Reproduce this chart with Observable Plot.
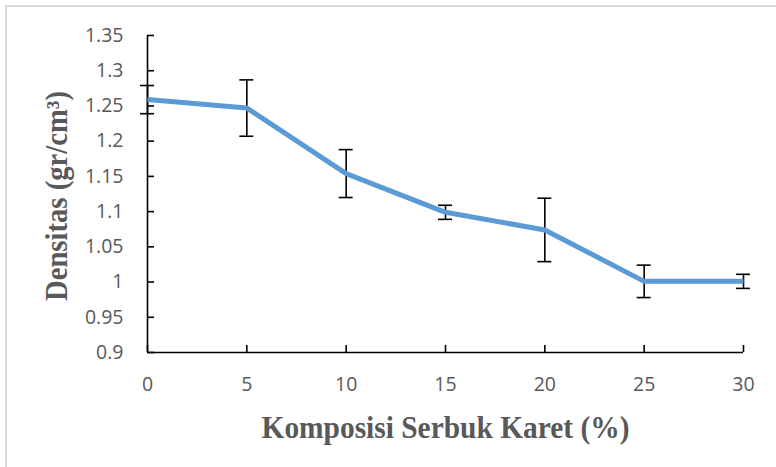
<!DOCTYPE html>
<html>
<head>
<meta charset="utf-8">
<script src="https://cdn.jsdelivr.net/npm/d3@7"></script>
<script src="https://cdn.jsdelivr.net/npm/@observablehq/plot@0.6"></script>
<style>
  html, body { margin: 0; padding: 0; background: white; }
  #wrap { position: relative; width: 776px; height: 467px; overflow: hidden; }
  #frame { position: absolute; left: 5px; top: 5px; width: 900px; height: 600px;
           border-top: 2px solid #d9d9d9; border-left: 2px solid #d9d9d9; pointer-events: none; }
  svg { background: transparent !important; }
</style>
</head>
<body>
<div id="wrap"><div id="frame"></div></div>
<script>
// Data
const komposisi = [0, 5, 10, 15, 20, 25, 30];
const densitas  = [1.259, 1.247, 1.154, 1.099, 1.074, 1.001, 1.001];
const galat     = [0.02, 0.04, 0.034, 0.01, 0.045, 0.023, 0.01];
const yTicks = [0.9, 0.95, 1, 1.05, 1.1, 1.15, 1.2, 1.25, 1.3, 1.35];
const xTicks = [0, 5, 10, 15, 20, 25, 30];
const xTitle = "Komposisi Serbuk Karet (%)";
const yTitle = "Densitas (gr/cm³)";

const rows = komposisi.map((k, i) => ({x: k, y: densitas[i], lo: densitas[i] - galat[i], hi: densitas[i] + galat[i]}));

const tickFont = "'Open Sans', 'Noto Sans', sans-serif";
const titleFont = "'Liberation Serif', 'Times New Roman', serif";
const gray = "#595959";

const chart = Plot.plot({
  width: 776,
  height: 467,
  marginLeft: 147,
  marginRight: 33,
  marginTop: 35,
  marginBottom: 115,
  style: {background: "transparent"},
  x: {domain: [0, 30]},
  y: {domain: [0.9, 1.35]},
  marks: [
    Plot.axisY({ticks: yTicks, tickSize: 0, tickPadding: 24, label: null, fontSize: 19.5, fontFamily: tickFont, fill: gray, tickFormat: d => String(+d.toFixed(2))}),
    Plot.axisX({ticks: xTicks, tickSize: 0, tickPadding: 25, label: null, fontSize: 19.5, fontFamily: tickFont, fill: gray}),
    // axis lines
    Plot.ruleX([0], {y1: 0.9, y2: 1.35, stroke: "black", strokeWidth: 1.6}),
    Plot.ruleY([0.9], {x1: 0, x2: 30, stroke: "black", strokeWidth: 1.6}),
    // inward ticks
    Plot.ruleY(yTicks, {y: d => d, x1: 0, x2: 0, insetRight: -7, stroke: "black", strokeWidth: 1.6}),
    Plot.ruleX(xTicks, {x: d => d, y1: 0.9, y2: 0.9, insetBottom: 7, stroke: "black", strokeWidth: 1.6}),
    // error bars
    Plot.ruleX(rows, {x: "x", y1: "lo", y2: "hi", stroke: "black", strokeWidth: 1.6}),
    Plot.ruleY(rows, {y: "hi", x1: "x", x2: "x", insetLeft: -7, insetRight: -7, stroke: "black", strokeWidth: 1.6}),
    Plot.ruleY(rows, {y: "lo", x1: "x", x2: "x", insetLeft: -7, insetRight: -7, stroke: "black", strokeWidth: 1.6}),
    // line
    Plot.line(rows, {x: "x", y: "y", stroke: "#5b9bd5", strokeWidth: 5, strokeLinejoin: "round", strokeLinecap: "butt"}),
    // axis titles
    Plot.text([xTitle], {frameAnchor: "bottom", dy: 76, text: d => d, fontSize: 31, fontWeight: "bold", fontFamily: titleFont, fill: gray, lineAnchor: "middle", textAnchor: "middle"}),
    Plot.text([yTitle], {frameAnchor: "left", dx: -90, dy: 2, rotate: -90, text: d => d, fontSize: 31, fontWeight: "bold", fontFamily: titleFont, fill: gray, lineAnchor: "middle", textAnchor: "middle"})
  ]
});

document.getElementById("wrap").prepend(chart);

// slight horizontal compression of the axis titles, as in the reference
chart.querySelectorAll("text").forEach(t => {
  if (t.textContent === xTitle) { t.setAttribute("textLength", 368); t.setAttribute("lengthAdjust", "spacingAndGlyphs"); }
  if (t.textContent === yTitle) { t.setAttribute("textLength", 210); t.setAttribute("lengthAdjust", "spacingAndGlyphs"); }
});
</script>
</body>
</html>
